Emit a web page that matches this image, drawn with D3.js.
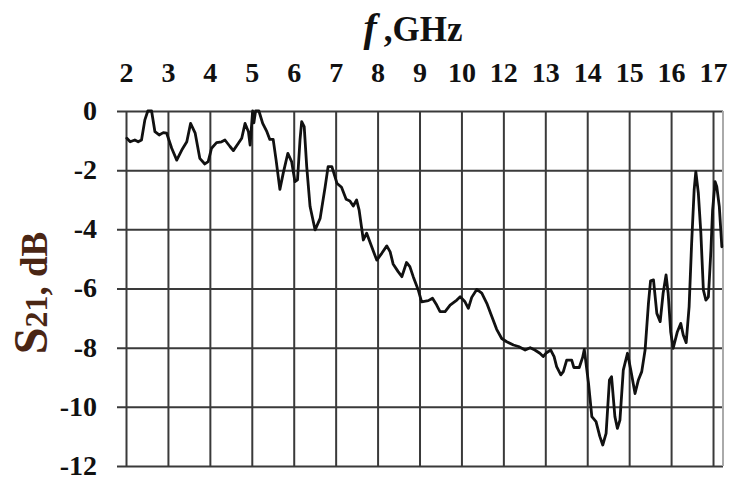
<!DOCTYPE html>
<html>
<head>
<meta charset="utf-8">
<script src="https://cdn.jsdelivr.net/npm/d3@7"></script>
<style>
  html, body { margin: 0; padding: 0; background: #fff; }
  svg { display: block; font-family: "Liberation Serif", "Times New Roman", serif; }
</style>
</head>
<body>
<svg id="chart" width="732" height="479"></svg>
<script>
// axis labels as printed (the original skips 11)
var xTicks = [2, 3, 4, 5, 6, 7, 8, 9, 10, 12, 13, 14, 15, 16, 17];
var yTicks = [0, -2, -4, -6, -8, -10, -12];

// measured S21 trace, frequency in GHz as read against the printed axis
var freq = [2.02, 2.10, 2.21, 2.29, 2.37, 2.45, 2.52, 2.61, 2.69, 2.79, 2.89, 2.97,
  3.09, 3.21, 3.33, 3.45, 3.54, 3.65, 3.76, 3.88, 3.96, 4.04, 4.16, 4.28, 4.36,
  4.48, 4.56, 4.68, 4.76, 4.84, 4.92, 4.96, 5.02, 5.05, 5.09, 5.17, 5.26, 5.36,
  5.43, 5.51, 5.58, 5.67, 5.75, 5.86, 5.95, 6.03, 6.09, 6.15, 6.19, 6.25, 6.31,
  6.39, 6.51, 6.63, 6.75, 6.82, 6.91, 7.03, 7.14, 7.25, 7.34, 7.42, 7.50, 7.56,
  7.66, 7.74, 7.86, 7.98, 8.10, 8.22, 8.30, 8.37, 8.49, 8.58, 8.69, 8.77, 8.85,
  8.97, 9.05, 9.21, 9.31, 9.41, 9.49, 9.61, 9.73, 9.89, 9.97, 10.17, 10.33, 10.49,
  10.73, 10.97, 11.21, 11.44, 11.68, 11.92, 12.08, 12.24, 12.36, 12.52, 12.64,
  12.75, 12.87, 12.95, 13.03, 13.13, 13.21, 13.27, 13.37, 13.43, 13.51, 13.63,
  13.68, 13.81, 13.89, 13.93, 14.03, 14.11, 14.21, 14.30, 14.37, 14.45, 14.53,
  14.58, 14.66, 14.72, 14.78, 14.86, 14.96, 15.04, 15.14, 15.22, 15.30, 15.38,
  15.46, 15.51, 15.58, 15.66, 15.74, 15.81, 15.88, 15.93, 15.99, 16.05, 16.15,
  16.23, 16.29, 16.36, 16.43, 16.49, 16.55, 16.59, 16.65, 16.71, 16.77, 16.83,
  16.89, 16.95, 16.99, 17.05, 17.09, 17.15, 17.21];
var s21 = [-0.92, -1.04, -0.98, -1.04, -0.98, -0.30, 0.00, 0.00, -0.70, -0.81, -0.73, -0.75,
  -1.26, -1.66, -1.32, -1.04, -0.42, -0.75, -1.60, -1.79, -1.71, -1.26, -1.07, -1.04, -0.98,
  -1.20, -1.34, -1.09, -0.92, -0.42, -0.70, -1.15, 0.00, -0.40, 0.00, 0.00, -0.42, -0.70,
  -0.96, -0.96, -1.66, -2.65, -2.10, -1.43, -1.71, -2.39, -2.33, -0.98, -0.36, -0.53, -1.88,
  -3.23, -4.02, -3.63, -2.56, -1.88, -1.88, -2.44, -2.58, -2.98, -3.04, -3.21, -3.01, -3.35,
  -4.36, -4.13, -4.59, -5.04, -4.81, -4.56, -4.76, -5.17, -5.43, -5.60, -5.12, -5.26, -5.60,
  -6.05, -6.45, -6.41, -6.33, -6.56, -6.78, -6.78, -6.56, -6.39, -6.28, -6.45, -6.67, -6.30,
  -6.03, -6.16, -6.50, -6.93, -7.38, -7.69, -7.80, -7.91, -7.96, -8.08, -8.00,
  -8.08, -8.19, -8.30, -8.17, -8.08, -8.30, -8.64, -8.92, -8.81, -8.42, -8.42,
  -8.67, -8.67, -8.33, -8.06, -9.20, -10.33, -10.50, -11.00, -11.29, -10.90, -9.09,
  -8.98, -10.33, -10.73, -10.45, -8.76, -8.19, -8.76, -9.55, -9.09, -8.81, -8.08,
  -6.50, -5.74, -5.71, -6.84, -7.12, -6.16, -5.54, -6.16, -7.46, -8.02, -7.46,
  -7.18, -7.57, -7.83, -6.61, -4.47, -2.67, -2.05, -2.78, -4.13, -6.05, -6.39,
  -6.28, -4.70, -3.35, -2.39, -2.56, -3.23, -4.59];

var svg = d3.select("#chart");

var plotLeft = 117, plotRight = 723, plotTop = 111, plotBottom = 466,
    firstX = 126, step = 41.93;

// each printed label gets one grid cell, so the scale is piecewise
var x = d3.scaleLinear()
    .domain(xTicks)
    .range(xTicks.map(function(d, i) { return firstX + i * step; }));
var y = d3.scaleLinear().domain([0, -12]).range([plotTop, plotBottom]);

// horizontal grid + y labels
var gy = svg.append("g")
    .attr("transform", "translate(" + plotLeft + ",0)")
    .call(d3.axisLeft(y).tickValues(yTicks).tickSize(-(plotRight - plotLeft)).tickPadding(20)
      .tickFormat(function(d) { return d; }));
gy.select(".domain").remove();
gy.selectAll(".tick line").attr("stroke", "#3a3a3a").attr("stroke-width", 2);
gy.selectAll(".tick text")
    .attr("fill", "#111")
    .attr("dy", "0.3em")
    .style("font-family", "'Liberation Serif', serif")
    .style("font-weight", "bold")
    .style("font-size", "28px");

// vertical grid + x labels on top
var gx = svg.append("g")
    .attr("transform", "translate(0," + plotTop + ")")
    .call(d3.axisTop(x).tickValues(xTicks).tickSize(-(plotBottom - plotTop)).tickPadding(29));
gx.select(".domain").remove();
gx.selectAll(".tick line").attr("stroke", "#3a3a3a").attr("stroke-width", 2);
gx.selectAll(".tick text")
    .attr("fill", "#111")
    .style("font-family", "'Liberation Serif', serif")
    .style("font-weight", "bold")
    .style("font-size", "28px");

// right frame edge
svg.append("line")
    .attr("x1", plotRight).attr("x2", plotRight)
    .attr("y1", plotTop).attr("y2", plotBottom)
    .attr("stroke", "#aaa").attr("stroke-width", 2);

// trace
var pts = freq.map(function(f, i) { return [f, s21[i]]; });
svg.append("path")
    .datum(pts)
    .attr("fill", "none")
    .attr("stroke", "#111")
    .attr("stroke-width", 2.8)
    .attr("stroke-linejoin", "round")
    .attr("stroke-linecap", "round")
    .attr("d", d3.line()
      .x(function(d) { return x(d[0]); })
      .y(function(d) { return y(d[1]); }));

// titles
var t = svg.append("text")
    .attr("x", 413).attr("y", 41)
    .attr("text-anchor", "middle")
    .style("font-weight", "bold")
    .style("font-size", "35px")
    .attr("fill", "#111");
t.append("tspan").style("font-style", "italic").style("font-size", "40px").text("f");
t.append("tspan").text("\u2009,GHz");

var yt = svg.append("text")
    .attr("transform", "translate(47,293) rotate(-90)")
    .attr("text-anchor", "middle")
    .style("font-weight", "bold")
    .attr("fill", "#4a2614");
yt.append("tspan").style("font-size", "48px").text("S");
yt.append("tspan").style("font-size", "32px").text("21");
yt.append("tspan").style("font-size", "37px").text(", dB");
</script>
</body>
</html>
